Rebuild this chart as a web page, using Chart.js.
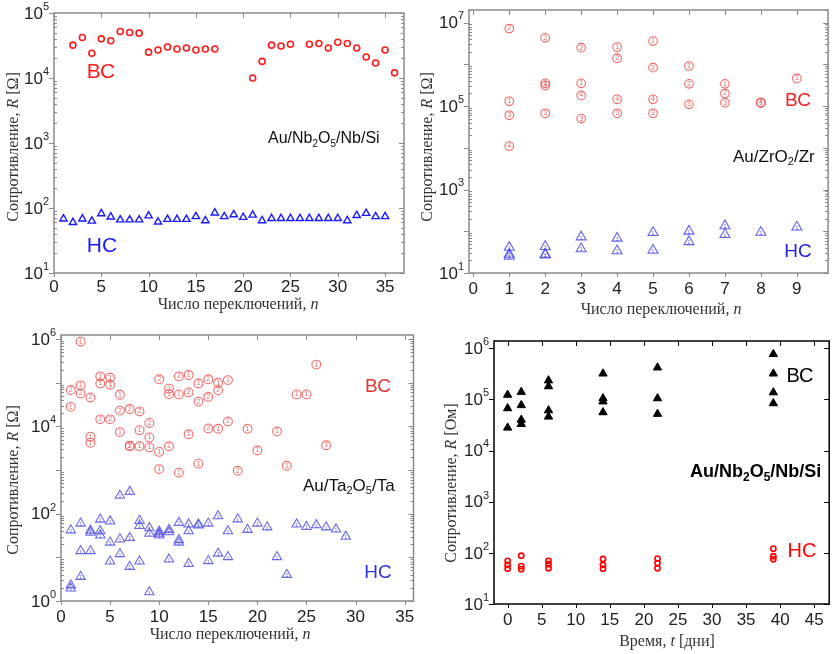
<!DOCTYPE html>
<html>
<head>
<meta charset="utf-8">
<script src="https://cdn.jsdelivr.net/npm/chart.js@4/dist/chart.umd.min.js"></script>
<style>
  body { margin: 0; background: #fff; width: 835px; height: 654px; position: relative; overflow: hidden; }
  canvas { position: absolute; }
</style>
</head>
<body>
<canvas id="c1" width="420" height="318" style="left:0;top:0"></canvas>
<canvas id="c2" width="415" height="318" style="left:420px;top:0"></canvas>
<canvas id="c3" width="420" height="334" style="left:0;top:320px"></canvas>
<canvas id="c4" width="415" height="334" style="left:420px;top:320px"></canvas>
<script>
// --- panel 1: Au/Nb2O5/Nb/Si, resistance vs switching number
const nbHrsN = [2,3,4,5,6,7,8,9,10,11,12,13,14,15,16,17,21,22,23,24,25,27,28,29,30,31,32,33,34,35,36];
const nbHrsR = [32000,42000,24000,40000,37500,52000,50000,49000,25000,27000,30000,28000,29000,27000,28000,28000,
                10000,18000,32000,31000,33000,33000,34000,29000,35500,34000,29000,21000,17000,27000,12000];
const nbLrsN = [1,2,3,4,5,6,7,8,9,10,11,12,13,14,15,16,17,18,19,20,21,22,23,24,25,26,27,28,29,30,31,32,33,34,35];
const nbLrsR = [68,60,68,63,82,73,66,66,66,76,61,67,67,67,74,64,84,74,79,72,78,64,69,69,69,69,69,69,69,69,64,77,83,74,74];
const p1XTicks = [0,5,10,15,20,25,30,35];
const p1YExp = [1,2,3,4,5];

// --- panel 2: Au/ZrO2/Zr, numbers inside markers = cell index
const zrHrsN = [1,1,1,1, 2,2,2,2, 3,3,3,3, 4,4,4,4, 5,5,5,5, 6,6,6, 7,7,7, 8,8, 9];
const zrHrsR = [7.2e6,1.3e5,6e4,1.1e4, 4.3e6,3.5e5,3.1e5,6.7e4, 2.5e6,3.5e5,1.8e5,5e4, 2.6e6,1.4e6,1.45e5,6.7e4,
                3.6e6,8.3e5,1.45e5,6.7e4, 9.1e5,3.4e5,1.1e5, 3.4e5,2e5,1.2e5, 1.22e5,1.18e5, 4.6e5];
const zrHrsMark = ['2','1','3','4', '2','1','4','3', '2','1','4','3', '1','2','4','3', '1','2','4','3', '1','2','3', '1','2','3', '4','1', '1'];
const zrLrsN = [1,1,1, 2,2,2, 3,3, 4,4, 5,5, 6,6, 7,7, 8, 9];
const zrLrsR = [41,28,25, 43,28,27, 73,38, 68,34, 93,35, 100,56, 135,83, 94, 126];
const p2XTicks = [0,1,2,3,4,5,6,7,8,9];
const p2YExp = [1,3,5,7];

// --- panel 3: Au/Ta2O5/Ta
const taHrsN = [1,1, 2,2,2, 3,3,3, 4,4,4, 5,5,5, 6,6,6, 7,7,7, 8,8,8, 9,9,9, 10,10,10, 11,11,11, 12,12,12,
                13,13,13, 14,14,14, 15,15,15, 16,16,16, 17,17, 18, 19, 20, 22, 23, 24, 25, 26, 27];
const taHrsR = [6.8e4,2.8e4, 8.7e5,8.7e4,5.7e4, 4.6e4,5.8e3,4.2e3, 1.4e5,9.6e4,1.45e4, 1.3e5,9e4,1.45e4,
                5.3e4,2.3e4,7.4e3, 2.5e4,3.6e3,3.5e3, 2.2e4,8.2e3,3.5e3, 1.2e4,5.6e3,3.3e3, 1.2e5,2.6e3,1.05e3,
                7.3e4,5.5e4,3.5e3, 1.4e5,5.4e4,870, 1.5e5,6e4,6.6e3, 9.6e4,3.7e4,1.4e3, 1.2e5,4.7e4,9e3,
                1e5,6.7e4,8.8e3, 1.15e5,1.3e4, 960, 8.8e3, 2.8e3, 7.7e3, 1.25e3, 5.4e4, 5.4e4, 2.6e5, 3.7e3];
const taHrsMark = ['2','1', '1','1','2', '2','1','1', '1','1','2', '1','1','2', '1','2','1', '2','1','2', '2','1','1',
                   '2','1','1', '2','1','1', '2','1','1', '2','1','1', '1','2','1', '1','2','1', '2','2','2', '1','2','1',
                   '1','2', '2', '1', '1', '1', '1', '1', '1', '1', '1'];
const taLrsN = [1,1,1, 2,2,2, 3,3,3, 4,4,4, 5,5,5, 6,6,6, 7,7,7, 8,8,8, 9,9,9, 10,10,10, 11,11,11, 12,12,12, 13,13,13,
                14,14, 15,15, 16,16, 17,17, 18, 19, 20, 21, 22, 23, 24, 25, 26, 27, 28, 29];
const taLrsR = [42,2.3,1.95, 60,14,3.6, 41,37,14, 74,40,32, 67,22,8.1, 260,26,12, 318,28,6.1, 69,53,8.1, 47,35,1.6,
                39,35,32, 43,38,9, 62,25,22, 57,40,7.1, 57,54, 60,8.3, 88,12.3, 40,10.2, 75, 43, 60, 49, 10.2, 4.0,
                57, 50, 55, 49, 44, 30];
const p3XTicks = [0,5,10,15,20,25,30,35];
const p3YExp = [0,2,4,6];

// --- panel 4: Au/Nb2O5/Nb/Si, retention over days
const dayHrs = [0,0,0, 2,2,2,2, 6,6,6,6, 14,14,14,14, 22,22,22, 39,39,39,39];
const retHrsR = [1.23e5,6.7e4,2.8e4, 1.4e5,7.7e4,4e4,3.3e4, 2.35e5,1.8e5,6.1e4,4.6e4, 3.2e5,1.05e5,9.1e4,5.6e4,
                 4.2e5,1.05e5,5.2e4, 7.7e5,3.2e5,1.37e5,8.4e4];
const dayLrs = [0,0,0, 2,2,2, 6,6,6, 14,14,14, 22,22,22, 39,39,39];
const retLrsR = [70,58,49, 88,55,48, 70,60,50, 76,58,49, 77,63,50, 121,86,75];
const p4XTicks = [0,5,10,15,20,25,30,35,40,45];
const p4YExp = [1,2,3,4,5,6];

const serif = '"Liberation Serif", "Times New Roman", serif';
const sans = '"Liberation Sans", Arial, sans-serif';

// draws text made of parts: [text, style] where style is '', 'i', 'sub' or 'sup'
function richText(ctx, parts, x, y, size, family, color, align, bold) {
  const fontOf = st => {
    const small = st === 'sub' || st === 'sup';
    return (st === 'i' ? 'italic ' : '') + (bold ? 'bold ' : '') + Math.round(small ? size * 0.65 : size) + 'px ' + family;
  };
  let total = 0;
  const w = parts.map(p => { ctx.font = fontOf(p[1]); const m = ctx.measureText(p[0]).width; total += m; return m; });
  let cx = align === 'center' ? x - total / 2 : align === 'right' ? x - total : x;
  ctx.fillStyle = color;
  ctx.textAlign = 'left';
  ctx.textBaseline = 'middle';
  parts.forEach((p, i) => {
    ctx.font = fontOf(p[1]);
    const dy = p[1] === 'sub' ? size * 0.32 : p[1] === 'sup' ? -size * 0.42 : 0;
    ctx.fillText(p[0], cx, y + dy);
    cx += w[i];
  });
}

const framePlugin = {
  id: 'frame',
  afterDatasetsDraw(chart, args, o) {
    const ctx = chart.ctx, a = chart.chartArea, xs = chart.scales.x, ys = chart.scales.y;
    ctx.save();

    // small numbers inside markers
    chart.data.datasets.forEach((ds, i) => {
      if (!ds.marks && !ds.mark) return;
      chart.getDatasetMeta(i).data.forEach((pt, j) => {
        ctx.font = ds.markSize + 'px ' + sans;
        ctx.fillStyle = ds.pointBorderColor;
        ctx.textAlign = 'center';
        ctx.textBaseline = 'middle';
        ctx.fillText(ds.marks ? ds.marks[j] : ds.mark, pt.x, pt.y + (ds.markDy || 0));
      });
    });

    // frame
    ctx.strokeStyle = o.color;
    ctx.lineWidth = o.width;
    ctx.strokeRect(a.left, a.top, a.right - a.left, a.bottom - a.top);

    // y ticks, major + minor
    ctx.lineWidth = 1;
    ctx.beginPath();
    for (let e = Math.floor(Math.log10(ys.min)); e <= Math.ceil(Math.log10(ys.max)); e++) {
      for (let m = 1; m < 10; m++) {
        const v = m * Math.pow(10, e);
        if (v < ys.min * 0.999 || v > ys.max * 1.001) continue;
        const py = Math.round(ys.getPixelForValue(v)) + 0.5;
        if (m === 1) {
          ctx.moveTo(a.left - 5, py); ctx.lineTo(a.left, py);
          ctx.moveTo(a.right, py); ctx.lineTo(a.right - 5, py);
        } else if (o.minor) {
          ctx.moveTo(a.left, py); ctx.lineTo(a.left + 3, py);
          ctx.moveTo(a.right, py); ctx.lineTo(a.right - 3, py);
        }
      }
    }
    // x ticks
    o.xTicks.forEach(v => {
      const px = Math.round(xs.getPixelForValue(v)) + 0.5;
      ctx.moveTo(px, a.bottom); ctx.lineTo(px, a.bottom + 4);
      ctx.moveTo(px, a.top); ctx.lineTo(px, a.top + 5);
    });
    ctx.stroke();

    // tick labels
    o.yExp.forEach(e => {
      const py = ys.getPixelForValue(Math.pow(10, e));
      richText(ctx, [['10', ''], [String(e), 'sup']], a.left - 5, py + 1, o.tickSize, sans, '#222', 'right');
    });
    o.xTicks.forEach(v => {
      richText(ctx, [[String(v), '']], xs.getPixelForValue(v), a.bottom + o.xLabelDy, o.tickSize, sans, '#222', 'center');
    });

    // axis titles
    richText(ctx, o.xTitle.parts, o.xTitle.x, o.xTitle.y, 16, serif, '#333', 'center');
    ctx.save();
    ctx.translate(o.yTitle.x, o.yTitle.y);
    ctx.rotate(-Math.PI / 2);
    richText(ctx, o.yTitle.parts, 0, 0, 16, serif, '#333', 'center');
    ctx.restore();

    // annotations
    o.notes.forEach(n => richText(ctx, n.parts, n.x, n.y, n.size, sans, n.color, n.align || 'center', n.bold));
    ctx.restore();
  }
};

function series(xs, ys, style) {
  return Object.assign({ data: xs.map((x, i) => ({ x: x, y: ys[i] })), showLine: false,
                         pointBackgroundColor: 'rgba(0,0,0,0)', pointHoverRadius: 0 }, style);
}

function makeChart(id, cfg) {
  return new Chart(document.getElementById(id), {
    type: 'scatter',
    data: { datasets: cfg.datasets },
    options: {
      responsive: false,
      animation: false,
      events: [],
      layout: { padding: cfg.pad },
      plugins: { legend: { display: false }, tooltip: { enabled: false }, frame: cfg.frame },
      scales: {
        x: {
          type: 'linear', min: cfg.x[0], max: cfg.x[1],
          ticks: { display: false }, grid: { display: false }, border: { display: false },
          afterFit: s => { s.height = cfg.xh; }
        },
        y: {
          type: 'logarithmic', min: cfg.y[0], max: cfg.y[1],
          ticks: { display: false }, grid: { display: false }, border: { display: false },
          afterFit: s => { s.width = cfg.yw; }
        }
      }
    },
    plugins: [framePlugin]
  });
}

const yTitleOhm = [['Сопротивление, ', ''], ['R', 'i'], [' [Ω]', '']];
const xTitleN = [['Число переключений, ', ''], ['n', 'i']];

makeChart('c1', {
  pad: { left: 0, top: 13, right: 16, bottom: 0 }, yw: 54, xh: 45,
  x: [0, 37], y: [10, 1e5],
  datasets: [
    series(nbHrsN, nbHrsR, { pointStyle: 'circle', pointRadius: 3, pointBorderColor: '#ff1a1a', pointBorderWidth: 1.6 }),
    series(nbLrsN, nbLrsR, { pointStyle: 'triangle', pointRadius: 4.2, pointBorderColor: '#1a1aff', pointBorderWidth: 1.4 })
  ],
  frame: {
    color: '#8a8a8a', width: 1.5, minor: true, tickSize: 17, xLabelDy: 14,
    xTicks: p1XTicks, yExp: p1YExp,
    xTitle: { parts: xTitleN, x: 238, y: 305 },
    yTitle: { parts: yTitleOhm, x: 14, y: 147 },
    notes: [
      { parts: [['ВС', '']], x: 101, y: 72, size: 21, color: '#ff1a1a' },
      { parts: [['НС', '']], x: 102, y: 246, size: 21, color: '#1a1aff' },
      { parts: [['Au/Nb', ''], ['2', 'sub'], ['O', ''], ['5', 'sub'], ['/Nb/Si', '']], x: 268, y: 139, size: 16, color: '#111', align: 'left' }
    ]
  }
});

makeChart('c2', {
  pad: { left: 0, top: 10, right: 6, bottom: 0 }, yw: 49, xh: 45,
  x: [-0.12, 9.87], y: [10, 2e7],
  datasets: [
    series(zrHrsN, zrHrsR, { pointStyle: 'circle', pointRadius: 4.3, pointBorderColor: 'rgba(240,70,70,0.85)', pointBorderWidth: 1.1,
                             marks: zrHrsMark, markSize: 7 }),
    series(zrLrsN, zrLrsR, { pointStyle: 'triangle', pointRadius: 5.8, pointBorderColor: 'rgba(70,70,235,0.85)', pointBorderWidth: 1.1,
                             mark: '1', markSize: 6, markDy: 1 })
  ],
  frame: {
    color: '#8a8a8a', width: 1.5, minor: true, tickSize: 17, xLabelDy: 16,
    xTicks: p2XTicks, yExp: p2YExp,
    xTitle: { parts: xTitleN, x: 241, y: 310 },
    yTitle: { parts: yTitleOhm, x: 8, y: 147 },
    notes: [
      { parts: [['ВС', '']], x: 378, y: 101, size: 19, color: '#ee2222' },
      { parts: [['НС', '']], x: 378, y: 252, size: 19, color: '#2222ee' },
      { parts: [['Au/ZrO', ''], ['2', 'sub'], ['/Zr', '']], x: 313, y: 157, size: 17, color: '#111', align: 'left' }
    ]
  }
});

makeChart('c3', {
  pad: { left: 0, top: 15, right: 3, bottom: 0 }, yw: 61, xh: 53,
  x: [0, 35.9], y: [1, 1.24e6],
  datasets: [
    series(taHrsN, taHrsR, { pointStyle: 'circle', pointRadius: 4.4, pointBorderColor: 'rgba(240,80,80,0.85)', pointBorderWidth: 1.1,
                             marks: taHrsMark, markSize: 7 }),
    series(taLrsN, taLrsR, { pointStyle: 'triangle', pointRadius: 5.4, pointBorderColor: 'rgba(80,80,230,0.85)', pointBorderWidth: 1.1,
                             mark: '1', markSize: 6, markDy: 1 })
  ],
  frame: {
    color: '#8a8a8a', width: 1.5, minor: true, tickSize: 17, xLabelDy: 16,
    xTicks: p3XTicks, yExp: p3YExp,
    xTitle: { parts: xTitleN, x: 230, y: 315 },
    yTitle: { parts: yTitleOhm, x: 14, y: 160 },
    notes: [
      { parts: [['ВС', '']], x: 378, y: 67, size: 19, color: '#e63232' },
      { parts: [['НС', '']], x: 378, y: 253, size: 19, color: '#3232d2' },
      { parts: [['Au/Ta', ''], ['2', 'sub'], ['O', ''], ['5', 'sub'], ['/Ta', '']], x: 303, y: 166, size: 17, color: '#111', align: 'left' }
    ]
  }
});

makeChart('c4', {
  pad: { left: 0, top: 21, right: 1, bottom: 0 }, yw: 74, xh: 50,
  x: [-2, 47.2], y: [10, 1.39e6],
  datasets: [
    series(dayHrs, retHrsR, { pointStyle: 'triangle', pointRadius: 4.8, pointBorderColor: '#000', pointBackgroundColor: '#000', pointBorderWidth: 1 }),
    series(dayLrs, retLrsR, { pointStyle: 'circle', pointRadius: 2.6, pointBorderColor: '#ff0000', pointBorderWidth: 1.6 })
  ],
  frame: {
    color: '#000', width: 1.5, minor: false, tickSize: 17, xLabelDy: 16,
    xTicks: p4XTicks, yExp: p4YExp,
    xTitle: { parts: [['Время, ', ''], ['t', 'i'], [' [дни]', '']], x: 247, y: 322 },
    yTitle: { parts: [['Сопротивление, ', ''], ['R', 'i'], [' [Ом]', '']], x: 32, y: 163 },
    notes: [
      { parts: [['ВС', '']], x: 380, y: 56, size: 20, color: '#000' },
      { parts: [['НС', '']], x: 382, y: 231, size: 20, color: '#ff0000' },
      { parts: [['Au/Nb', ''], ['2', 'sub'], ['O', ''], ['5', 'sub'], ['/Nb/Si', '']], x: 270, y: 152, size: 18, color: '#000', align: 'left', bold: true }
    ]
  }
});
</script>
</body>
</html>
